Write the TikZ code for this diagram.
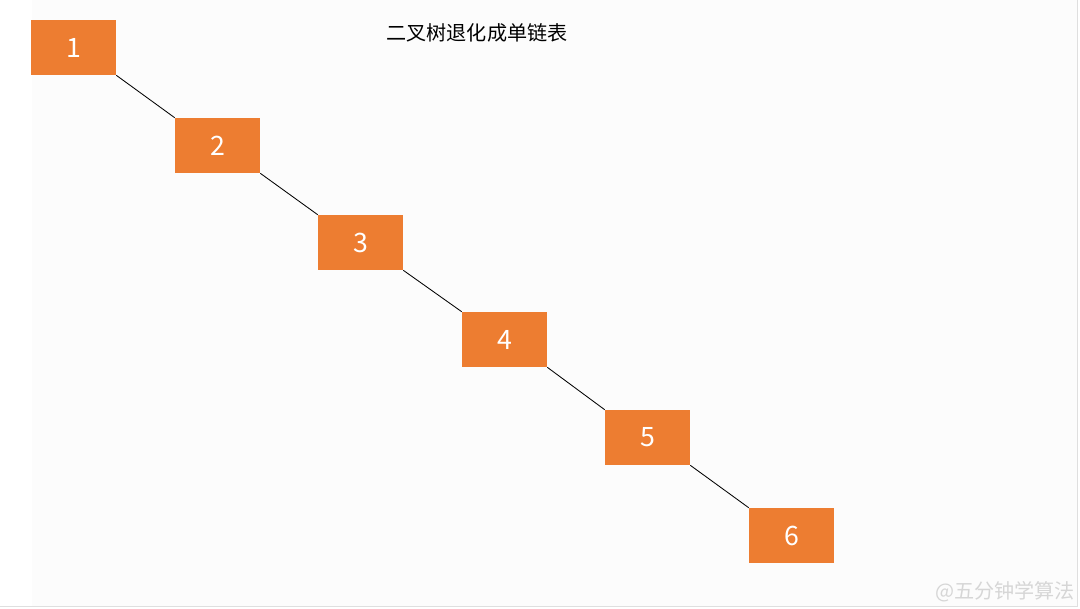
\documentclass[tikz,border=0pt]{standalone}
\usepackage{fontspec}
\setmainfont{Noto Sans CJK SC}
\usepackage{tikz}
\usetikzlibrary{positioning}
\definecolor{boxorange}{HTML}{ED7D31}
\definecolor{markgray}{HTML}{D6D6D6}
\tikzset{treebox/.style={fill=boxorange, text=white, minimum width=2.125cm, minimum height=1.375cm, inner sep=0pt, font=\fontsize{19}{19}\selectfont}}
\begin{document}
\begin{tikzpicture}[x=0.025cm, y=-0.025cm]
                \useasboundingbox (0,0) rectangle (1080,608);
                \fill[white] (0,0) rectangle (1080,608);
                \fill[gray!2] (32,0) rectangle (1077,606);
                \draw[gray!25, line width=0.6pt] (0,606) -- (1077,606) -- (1077,0);
                \node (title) at (477,33) {\fontsize{14.3}{15}\selectfont 二叉树退化成单链表};
                \node[treebox] (n1) at (73.5,47.5) {1};
                \node[treebox] (n2) at (217.5,145.5) {2};
                \node[treebox] (n3) at (360.5,242.5) {3};
                \node[treebox] (n4) at (504.5,339.5) {4};
                \node[treebox] (n5) at (647.5,437.5) {5};
                \node[treebox] (n6) at (791.5,535.5) {6};
                \draw [line width=0.6pt] (n1.south east) -- (n2.north west);
                \draw [line width=0.6pt] (n2.south east) -- (n3.north west);
                \draw [line width=0.6pt] (n3.south east) -- (n4.north west);
                \draw [line width=0.6pt] (n4.south east) -- (n5.north west);
                \draw [line width=0.6pt] (n5.south east) -- (n6.north west);
                \node[text=markgray, anchor=east] (mark) at (1080,592) {\fontsize{14.3}{15}\selectfont @五分钟学算法};
            \end{tikzpicture}
\end{document}
